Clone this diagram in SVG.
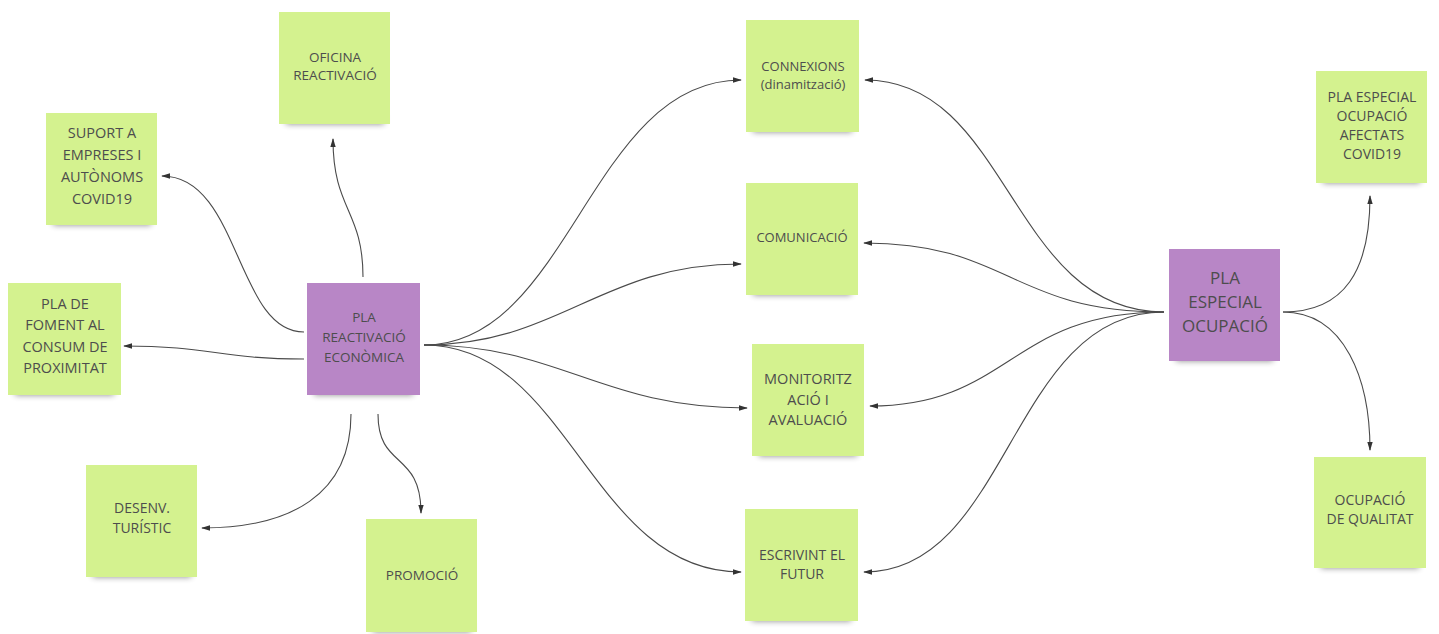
<svg xmlns="http://www.w3.org/2000/svg" width="1439" height="634" viewBox="0 0 1439 634">
<style>
.g{fill:#d4f28f}
.p{fill:#b886c6}
.sh{fill:#000;opacity:.45;filter:url(#blur)}
.t{font-family:"Open Sans","Noto Sans","Liberation Sans",sans-serif;fill:#4d4d4d;text-anchor:middle}
.c{fill:none;stroke:#4a4a4a;stroke-width:1.1;marker-end:url(#ah)}
</style>
<defs>
<filter id="blur" x="-20%" y="-100%" width="140%" height="300%"><feGaussianBlur stdDeviation="3"/></filter>
<marker id="ah" viewBox="0 0 10 6" refX="9" refY="3" markerWidth="9" markerHeight="5.4" markerUnits="userSpaceOnUse" orient="auto"><path d="M0,0 L10,3 L0,6 z" fill="#333"/></marker>
</defs>
<rect width="1439" height="634" fill="#fff"/>

<g id="connectors">
<path class="c" d="M363,277 C363,210 333,210 333,139"/>
<path class="c" d="M304,332 C236,332 240,176 162,176"/>
<path class="c" d="M304,359 C220,359 210,346 124,346"/>
<path class="c" d="M351,414 C351,495 290,528 202,528"/>
<path class="c" d="M378,414 C378,470 421,450 421,513"/>
<path class="c" d="M424,345 C570,345 590,80 741,80"/>
<path class="c" d="M424,345 C560,345 600,264 741,264"/>
<path class="c" d="M424,345 C560,345 600,408 747,408"/>
<path class="c" d="M424,345 C570,345 590,572 741,572"/>
<path class="c" d="M1164,312 C1010,312 1010,80 865,80"/>
<path class="c" d="M1164,312 C1010,312 1010,243 864,243"/>
<path class="c" d="M1164,312 C1010,312 1010,406 870,406"/>
<path class="c" d="M1164,312 C1010,312 1010,572 864,572"/>
<path class="c" d="M1283,312 C1345,312 1370,270 1370,196"/>
<path class="c" d="M1283,312 C1345,312 1370,380 1370,450"/>
</g>

<g id="oficina">
<rect class="sh" x="286" y="114" width="98" height="10"/>
<rect class="g" x="279" y="12" width="111" height="112"/>
<text class="t" font-size="13.5"><tspan x="335" y="62">OFICINA</tspan><tspan x="335" y="80">REACTIVACIÓ</tspan></text>
</g>

<g id="suport">
<rect class="sh" x="53" y="215" width="98" height="10"/>
<rect class="g" x="46" y="113" width="111" height="112"/>
<text class="t" font-size="14.5"><tspan x="102" y="138">SUPORT A</tspan><tspan x="102" y="160">EMPRESES I</tspan><tspan x="102" y="182">AUTÒNOMS</tspan><tspan x="102" y="204">COVID19</tspan></text>
</g>

<g id="foment">
<rect class="sh" x="15" y="385" width="99" height="10"/>
<rect class="g" x="8" y="283" width="113" height="112"/>
<text class="t" font-size="14.5"><tspan x="65" y="309">PLA DE</tspan><tspan x="65" y="330">FOMENT AL</tspan><tspan x="65" y="352">CONSUM DE</tspan><tspan x="65" y="373">PROXIMITAT</tspan></text>
</g>

<g id="reactivacio">
<rect class="sh" x="314" y="385" width="99" height="10"/>
<rect class="p" x="307" y="283" width="113" height="112"/>
<text class="t" font-size="13.5"><tspan x="364" y="322">PLA</tspan><tspan x="364" y="342">REACTIVACIÓ</tspan><tspan x="364" y="362">ECONÒMICA</tspan></text>
</g>

<g id="desenv">
<rect class="sh" x="93" y="567" width="98" height="10"/>
<rect class="g" x="86" y="465" width="111" height="112"/>
<text class="t" font-size="14"><tspan x="142" y="513">DESENV.</tspan><tspan x="142" y="533">TURÍSTIC</tspan></text>
</g>

<g id="promocio">
<rect class="sh" x="373" y="622" width="98" height="10"/>
<rect class="g" x="366" y="519" width="111" height="113"/>
<text class="t" font-size="13.5"><tspan x="422" y="580">PROMOCIÓ</tspan></text>
</g>

<g id="connexions">
<rect class="sh" x="753" y="122" width="99" height="10"/>
<rect class="g" x="746" y="20" width="113" height="112"/>
<text class="t" font-size="13"><tspan x="803" y="71">CONNEXIONS</tspan><tspan x="803" y="89">(dinamització)</tspan></text>
</g>

<g id="comunicacio">
<rect class="sh" x="753" y="285" width="98" height="10"/>
<rect class="g" x="746" y="183" width="112" height="112"/>
<text class="t" font-size="13"><tspan x="802" y="242">COMUNICACIÓ</tspan></text>
</g>

<g id="monitoritzacio">
<rect class="sh" x="759" y="446" width="98" height="10"/>
<rect class="g" x="752" y="344" width="112" height="112"/>
<text class="t" font-size="14.5"><tspan x="808" y="384">MONITORITZ</tspan><tspan x="808" y="405">ACIÓ I</tspan><tspan x="808" y="425">AVALUACIÓ</tspan></text>
</g>

<g id="escrivint">
<rect class="sh" x="752" y="611" width="99" height="10"/>
<rect class="g" x="745" y="509" width="113" height="112"/>
<text class="t" font-size="14"><tspan x="802" y="560">ESCRIVINT EL</tspan><tspan x="802" y="579">FUTUR</tspan></text>
</g>

<g id="ocupacio">
<rect class="sh" x="1176" y="351" width="97" height="10"/>
<rect class="p" x="1169" y="249" width="111" height="112"/>
<text class="t" font-size="17"><tspan x="1225" y="284">PLA</tspan><tspan x="1225" y="308">ESPECIAL</tspan><tspan x="1225" y="332">OCUPACIÓ</tspan></text>
</g>

<g id="afectats">
<rect class="sh" x="1323" y="173" width="97" height="10"/>
<rect class="g" x="1316" y="71" width="111" height="112"/>
<text class="t" font-size="14"><tspan x="1372" y="102">PLA ESPECIAL</tspan><tspan x="1372" y="121">OCUPACIÓ</tspan><tspan x="1372" y="140">AFECTATS</tspan><tspan x="1372" y="159">COVID19</tspan></text>
</g>

<g id="qualitat">
<rect class="sh" x="1321" y="558" width="98" height="10"/>
<rect class="g" x="1314" y="457" width="112" height="111"/>
<text class="t" font-size="14"><tspan x="1370" y="505">OCUPACIÓ</tspan><tspan x="1370" y="524">DE QUALITAT</tspan></text>
</g>
</svg>
